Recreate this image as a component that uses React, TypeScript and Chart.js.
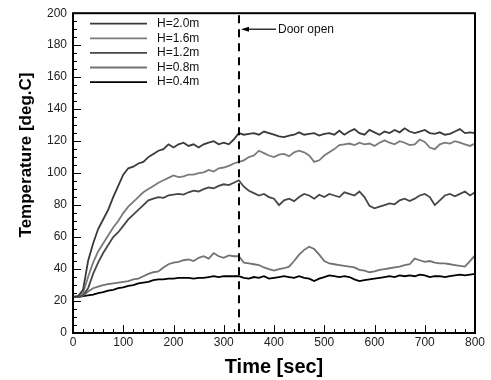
import React, { useEffect, useRef } from "react";
import { Chart, registerables } from "chart.js";

Chart.register(...registerables);

const times = [
  0, 10, 20, 30, 40, 50, 60, 70, 80, 90,
  100, 110, 120, 130, 140, 150, 160, 170, 180, 190,
  200, 210, 220, 230, 240, 250, 260, 270, 280, 290,
  300, 310, 320, 330, 340, 350, 360, 370, 380, 390,
  400, 410, 420, 430, 440, 450, 460, 470, 480, 490,
  500, 510, 520, 530, 540, 550, 560, 570, 580, 590,
  600, 610, 620, 630, 640, 650, 660, 670, 680, 690,
  700, 710, 720, 730, 740, 750, 760, 770, 780, 790,
  800,
];

const h20 = [
  22.5, 23, 27, 45, 56, 65, 71, 77, 85, 92,
  99, 103, 104, 106, 107, 110, 112, 114, 115, 118,
  116, 118, 119, 117, 118, 116, 118, 119, 120, 118,
  119, 118, 121, 125, 124, 124.5, 125, 124, 126, 125,
  124, 123, 122.5, 123.5, 124, 125.5, 124, 124.5, 125, 123.5,
  124.5, 125, 124, 126.5, 124, 126, 127.5, 125, 124, 127,
  125.5, 124, 126, 125, 127, 125.5, 128, 126, 125, 126,
  127, 125, 124.5, 125.5, 124, 124.5, 126, 127.5, 125, 125.5,
  125,
];

const h16 = [
  22.5, 23, 25, 35, 44, 51, 56, 61, 66, 70,
  75, 79, 82, 85, 88, 90, 92, 94, 95.5, 97,
  98.5, 97.5, 98, 99, 99, 100, 100.5, 102, 101, 103,
  103.5, 104.5, 106, 107, 108, 110, 111, 114, 112.5, 111,
  110, 111.5, 112, 110.5, 113, 114, 113, 111, 107, 108,
  111, 113, 115, 117.5, 118, 118.5, 117.5, 119, 118, 118.5,
  117, 119, 120.5, 119, 118, 120, 119, 117.5, 118, 121,
  119.5, 116, 115, 118, 119, 118.5, 120, 119, 118, 117,
  118.5,
];

const h12 = [
  22.5, 22.8, 23.5, 28, 37, 44, 50, 55, 60, 63,
  67, 71, 74, 77, 80, 83, 84, 85, 84.5, 86,
  86.5, 87, 86.5, 88, 89, 88.5, 90, 91, 90.5, 92,
  93, 92.5, 94, 95.5, 91.5, 89, 87.5, 86, 87, 85,
  84, 80, 83, 84, 82.5, 85, 87, 86, 84, 86.5,
  85, 87, 86, 85, 88, 87, 86, 88.5, 85, 79.5,
  78, 79, 80, 81, 80.5, 83, 84, 82.5, 84, 86,
  87, 85, 80, 83, 86, 87, 85.5, 87, 88.5, 86,
  88,
];

const h08 = [
  22.5, 22.5, 23.5, 26, 28, 29, 30, 30.5, 31, 31.5,
  32, 32.5, 33.5, 34, 35.5, 37, 38, 38.5, 41, 43,
  44, 44.5, 45.5, 46, 45, 47, 48, 46.5, 50, 48,
  47, 48.5, 48, 48, 44, 43.5, 43, 42.5, 41, 40,
  39, 40, 40.5, 41.5, 45, 49, 52, 54, 52.5, 49,
  45, 43.5, 43, 42.5, 42, 41.5, 41, 39.5, 39, 38,
  38.5, 39.5, 40, 40.5, 41, 41.5, 42.5, 43, 46.5, 45.5,
  44.5, 45, 44, 43.5, 43.5, 43, 42.5, 42, 41.5, 45,
  48.5,
];

const h04 = [
  22.5, 22.5, 23, 23.5, 24, 25, 25.5, 26.5, 27, 28,
  28.5, 29.5, 30, 31, 31.5, 32, 33, 33.5, 33.5, 34,
  34, 34.5, 34.5, 34.5, 34, 34.5, 34.5, 35, 35.5, 35,
  35.5, 35.5, 35.5, 35.5, 34.5, 34, 35, 34.5, 35.5, 34,
  34.5, 35, 35.5, 35, 34.5, 35.5, 34.5, 34, 32.5, 34,
  35, 36, 35.5, 35, 35.5, 35, 33.5, 32.5, 33, 33.5,
  34, 34.5, 35, 35.5, 35, 36, 35.5, 36, 35.5, 36.5,
  36, 35, 35.5, 35.5, 35, 35.5, 36, 36.5, 36, 36.5,
  37,
];

const seriesLabels = ["H=2.0m", "H=1.6m", "H=1.2m", "H=0.8m", "H=0.4m"];
const seriesValues = [h20, h16, h12, h08, h04];
const seriesColors = ["#3a3a3a", "#7a7a7a", "#474747", "#727272", "#000000"];

const doorTime = 330;
const doorLabel = "Door open";
const xTitle = "Time [sec]";
const yTitle = "Temperature [deg.C]";

const FONT = "Arial, 'Liberation Sans', Helvetica, sans-serif";

const decorPlugin = {
  id: "decor",
  afterDatasetsDraw(chart: any) {
    const { ctx, chartArea: a, scales } = chart;
    const x = scales.x;
    const y = scales.y;
    ctx.save();

    // door dashed line
    const dx = Math.round(x.getPixelForValue(doorTime));
    ctx.strokeStyle = "#000";
    ctx.lineWidth = 2;
    ctx.setLineDash([8, 6]);
    ctx.beginPath();
    ctx.moveTo(dx, a.top + 2);
    ctx.lineTo(dx, a.bottom);
    ctx.stroke();
    ctx.setLineDash([]);

    // frame
    ctx.lineWidth = 2;
    ctx.strokeRect(a.left, a.top, a.right - a.left, a.bottom - a.top);

    // inward ticks
    ctx.lineWidth = 1;
    ctx.beginPath();
    for (let v = 0; v <= 800; v += 20) {
      const px = Math.round(x.getPixelForValue(v)) + 0.5;
      const len = v % 100 === 0 ? 8 : 4;
      ctx.moveTo(px, a.bottom);
      ctx.lineTo(px, a.bottom - len);
    }
    for (let v = 0; v <= 200; v += 5) {
      const py = Math.round(y.getPixelForValue(v)) + 0.5;
      const len = v % 20 === 0 ? 8 : 4;
      ctx.moveTo(a.left, py);
      ctx.lineTo(a.left + len, py);
    }
    ctx.stroke();

    // legend
    ctx.font = `12px ${FONT}`;
    ctx.textBaseline = "middle";
    ctx.textAlign = "left";
    chart.data.datasets.forEach((ds: any, i: number) => {
      const ly = a.top + 10.5 + i * 14.6;
      ctx.strokeStyle = ds.borderColor;
      ctx.lineWidth = 1.8;
      ctx.beginPath();
      ctx.moveTo(a.left + 17, ly);
      ctx.lineTo(a.left + 74, ly);
      ctx.stroke();
      ctx.fillStyle = "#111";
      ctx.fillText(ds.label, a.left + 84, ly);
    });

    // arrow + door label
    const ay = a.top + 16;
    ctx.strokeStyle = "#000";
    ctx.fillStyle = "#000";
    ctx.lineWidth = 1.2;
    ctx.beginPath();
    ctx.moveTo(dx + 8, ay);
    ctx.lineTo(dx + 37, ay);
    ctx.stroke();
    ctx.beginPath();
    ctx.moveTo(dx + 2, ay);
    ctx.lineTo(dx + 10, ay - 2.5);
    ctx.lineTo(dx + 10, ay + 2.5);
    ctx.closePath();
    ctx.fill();
    ctx.fillStyle = "#111";
    ctx.fillText(doorLabel, dx + 39, ay);

    // axis titles
    ctx.fillStyle = "#000";
    ctx.font = `bold 20px ${FONT}`;
    ctx.textAlign = "center";
    ctx.textBaseline = "alphabetic";
    ctx.fillText(xTitle, (a.left + a.right) / 2, 373);

    ctx.save();
    ctx.translate(31, 155);
    ctx.rotate(-Math.PI / 2);
    ctx.font = `bold 17px ${FONT}`;
    ctx.textBaseline = "alphabetic";
    ctx.fillText(yTitle, 0, 0);
    ctx.restore();

    ctx.restore();
  },
};

export default function App() {
  const canvasRef = useRef<HTMLCanvasElement | null>(null);

  useEffect(() => {
    const canvas = canvasRef.current;
    if (!canvas) return;
    const chart = new Chart(canvas, {
      type: "line",
      data: {
        datasets: seriesLabels.map((label, i) => ({
          label,
          data: times.map((t, j) => ({ x: t, y: seriesValues[i][j] })),
          borderColor: seriesColors[i],
          backgroundColor: seriesColors[i],
          borderWidth: 1.8,
          pointRadius: 0,
          tension: 0,
          fill: false,
        })),
      },
      options: {
        responsive: false,
        animation: false,
        devicePixelRatio: 1,
        layout: { padding: { top: 13, right: 16, left: 0, bottom: 0 } },
        plugins: {
          legend: { display: false },
          tooltip: { enabled: false },
        },
        scales: {
          x: {
            type: "linear",
            min: 0,
            max: 800,
            grid: { display: false, drawTicks: false },
            border: { display: false },
            ticks: {
              stepSize: 100,
              padding: 2,
              color: "#222",
              font: { family: FONT, size: 12 },
              maxRotation: 0,
            },
            afterFit: (s: any) => {
              s.height = 47;
            },
          },
          y: {
            min: 0,
            max: 200,
            grid: { display: false, drawTicks: false },
            border: { display: false },
            ticks: {
              stepSize: 20,
              padding: 6,
              color: "#222",
              font: { family: FONT, size: 12 },
            },
            afterFit: (s: any) => {
              s.width = 73;
            },
          },
        },
      },
      plugins: [decorPlugin],
    });
    return () => chart.destroy();
  }, []);

  return (
    <div style={{ position: "fixed", left: 0, top: 0, width: 491, height: 380, background: "#fff" }}>
      <canvas ref={canvasRef} width={491} height={380} style={{ display: "block" }} />
    </div>
  );
}
